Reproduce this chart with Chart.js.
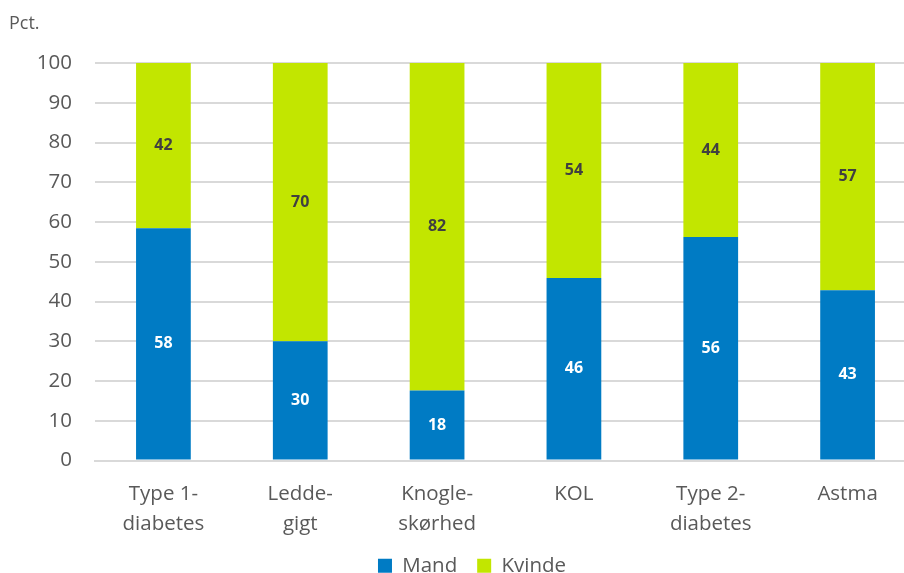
<!DOCTYPE html>
<html>
<head>
<meta charset="utf-8">
<script src="https://cdn.jsdelivr.net/npm/chart.js@4.4.0/dist/chart.umd.min.js"></script>
<style>
  html, body { margin: 0; padding: 0; background: #fff; overflow: hidden; }
  #wrap { width: 916px; height: 586px; }
</style>
</head>
<body>
<div id="wrap"><canvas id="chart" width="916" height="586"></canvas></div>
<script>
var categories = [['Type 1-', 'diabetes'], ['Ledde-', 'gigt'], ['Knogle-', 'skørhed'], 'KOL', ['Type 2-', 'diabetes'], 'Astma'];
var mand = [58.4, 30, 17.6, 45.9, 56.2, 42.8];
var kvinde = [41.6, 70, 82.4, 54.1, 43.8, 57.2];
var yTicks = [0, 10, 20, 30, 40, 50, 60, 70, 80, 90, 100];

var textColor = '#595959';
var fontFamily = '"Open Sans", "Noto Sans", sans-serif';

// labels in the middle of each segment
var barLabels = {
    id: 'barLabels',
    afterDatasetsDraw: function (chart) {
        var ctx = chart.ctx;
        ctx.save();
        ctx.font = 'bold 16px ' + fontFamily;
        ctx.textAlign = 'center';
        ctx.textBaseline = 'middle';
        chart.data.datasets.forEach(function (ds, i) {
            var meta = chart.getDatasetMeta(i);
            meta.data.forEach(function (bar, j) {
                var mid = (bar.y + bar.base) / 2;
                ctx.fillStyle = i === 0 ? '#ffffff' : '#404040';
                ctx.fillText(Math.round(ds.data[j]), bar.x, mid);
            });
        });
        ctx.restore();
    }
};

var unitLabel = {
    id: 'unitLabel',
    afterDraw: function (chart) {
        var ctx = chart.ctx;
        ctx.save();
        ctx.font = '18px ' + fontFamily;
        ctx.fillStyle = textColor;
        ctx.textAlign = 'left';
        ctx.textBaseline = 'middle';
        ctx.fillText('Pct.', 9, 24);
        ctx.restore();
    }
};

var ctx = document.getElementById('chart').getContext('2d');
var myChart = new Chart(ctx, {
    type: 'bar',
    data: {
        labels: categories,
        datasets: [{
            label: 'Mand',
            data: mand,
            backgroundColor: '#007BC4'
        },
        {
            label: 'Kvinde',
            data: kvinde,
            backgroundColor: '#C2E600'
        }]
    },
    options: {
        responsive: false,
        animation: false,
        layout: { padding: { top: 63, left: 28, right: 0, bottom: 0 } },
        datasets: { bar: { categoryPercentage: 1, barPercentage: 0.4 } },
        plugins: {
            legend: {
                position: 'bottom',
                labels: {
                    boxWidth: 14,
                    boxHeight: 14,
                    padding: 20,
                    color: textColor,
                    font: { family: fontFamily, size: 20.5 }
                }
            },
            tooltip: { enabled: false }
        },
        scales: {
            x: {
                stacked: true,
                grid: { display: false },
                border: { color: '#d9d9d9', width: 2 },
                ticks: {
                    color: textColor,
                    padding: 11,
                    maxRotation: 0,
                    font: { family: fontFamily, size: 20.5, lineHeight: 1.45 }
                },
                afterFit: function (scale) { scale.height = 75; }
            },
            y: {
                stacked: true,
                min: 0,
                max: 100,
                afterBuildTicks: function (scale) {
                    scale.ticks = yTicks.map(function (v) { return { value: v }; });
                },
                grid: { color: '#d9d9d9', lineWidth: 2, drawTicks: false },
                border: { display: false },
                ticks: {
                    color: textColor,
                    padding: 23,
                    font: { family: fontFamily, size: 20.5 }
                },
                afterFit: function (scale) { scale.width = 67; }
            }
        }
    },
    plugins: [barLabels, unitLabel]
});
</script>
</body>
</html>
